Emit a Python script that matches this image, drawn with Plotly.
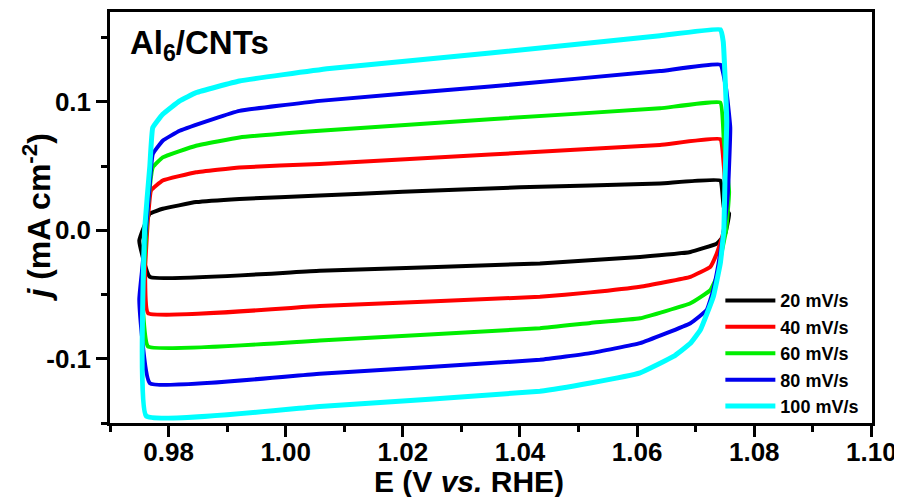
import plotly.graph_objects as go

# ---- data (closed CV loops) ----
labels = ["20 mV/s", "40 mV/s", "60 mV/s", "80 mV/s", "100 mV/s"]
colors = ["#000000", "#FF0000", "#00EE00", "#0000EE", "#00FFFF"]
widths = [4, 4, 4, 4, 5]

E_20 = [0.9768, 0.9750, 0.9760, 0.9768, 0.9790, 0.9847, 0.9921, 1.0058, 1.0200, 1.0400, 1.0639,
        1.0742, 1.0748, 1.0757, 1.0750, 1.0736, 1.0691, 1.0605, 1.0434, 1.0058, 0.9768]
j_20 = [-0.0362, -0.008, 0.005, 0.013, 0.0168, 0.022, 0.0245, 0.0271, 0.0300, 0.0335, 0.0365,
        0.0388, 0.018, 0.013, -0.003, -0.0103, -0.0168, -0.0207, -0.0258, -0.0315, -0.0362]

E_40 = [0.9765, 0.9760, 0.9765, 0.9770, 0.9790, 0.9847, 0.9921, 1.0058, 1.0349, 1.0639, 1.0742,
        1.0748, 1.0752, 1.0748, 1.0742, 1.0736, 1.0725, 1.0691, 1.0605, 1.0520, 1.0434, 1.0058, 0.9765]
j_40 = [-0.0646, -0.030, 0.010, 0.031, 0.0388, 0.0452, 0.049, 0.0517, 0.059, 0.0665, 0.071,
        0.050, 0.020, 0.000, -0.010, -0.018, -0.0284, -0.0362, -0.0439, -0.0483, -0.0517, -0.059, -0.0646]

E_60 = [0.9765, 0.9755, 0.9758, 0.9765, 0.9773, 0.9790, 0.9847, 0.9921, 1.0058, 1.0349, 1.0639,
        1.0742, 1.0748, 1.0757, 1.0752, 1.0745, 1.0736, 1.0725, 1.0691, 1.0605, 1.0520, 1.0434,
        1.0058, 0.9765]
j_60 = [-0.0905, -0.050, -0.030, 0.020, 0.049, 0.0568, 0.0659, 0.0723, 0.0775, 0.0865, 0.095,
        0.0995, 0.070, 0.030, 0.000, -0.0155, -0.0362, -0.0465, -0.0568, -0.0685, -0.0721, -0.0762,
        -0.0858, -0.0905]

E_80 = [0.9768, 0.9750, 0.9755, 0.9765, 0.9773, 0.9790, 0.9819, 0.9876, 0.9921, 1.0058, 1.0349,
        1.0639, 1.0742, 1.0752, 1.0759, 1.0755, 1.0748, 1.0739, 1.0730, 1.0719, 1.0691, 1.0605,
        1.0520, 1.0434, 1.0058, 0.9768]
j_80 = [-0.119, -0.054, -0.030, 0.020, 0.0594, 0.0698, 0.0775, 0.0866, 0.093, 0.1008, 0.112,
        0.124, 0.129, 0.110, 0.080, 0.030, 0.000, -0.0258, -0.0465, -0.062, -0.0723, -0.0878,
        -0.0956, -0.1008, -0.1116, -0.119]

E_100 = [0.9762, 0.9756, 0.9759, 0.9768, 0.9773, 0.9790, 0.9819, 0.9847, 0.9921, 1.0075, 1.0349,
         1.0639, 1.0742, 1.0747, 1.0753, 1.0750, 1.0748, 1.0742, 1.0730, 1.0708, 1.0691, 1.0662,
         1.0605, 1.0520, 1.0434, 1.0058, 0.9762]
j_100 = [-0.1447, -0.054, 0.000, 0.050, 0.080, 0.0904, 0.1008, 0.1072, 0.1163, 0.126, 0.138,
         0.1515, 0.1563, 0.147, 0.085, 0.040, 0.000, -0.0258, -0.0517, -0.0775, -0.0879, -0.0982,
         -0.111, -0.1189, -0.1253, -0.1372, -0.1447]

E_all = [E_20, E_40, E_60, E_80, E_100]
j_all = [j_20, j_40, j_60, j_80, j_100]

x_range = [0.97, 1.1001]
y_range = [-0.15, 0.17]
y_ticks = [-0.1, 0.0, 0.1]
y_ticktext = ["-0.1", "0.0", "0.1"]
y_minor = [-0.15, -0.05, 0.05, 0.15]

FONT = "Liberation Sans, Arial, sans-serif"

fig = go.Figure()
for E, j, lab, col, w in zip(E_all, j_all, labels, colors, widths):
    fig.add_trace(go.Scatter(x=E, y=j, mode="lines", name=lab,
                             line=dict(color=col, width=w, shape="spline", smoothing=0.3)))

axis_common = dict(showline=True, linecolor="black", linewidth=2.5, mirror=True,
                   ticks="outside", ticklen=11, tickwidth=2.5, tickcolor="black",
                   showgrid=False, zeroline=False, automargin=False,
                   tickfont=dict(family=FONT, size=26, color="black", weight="bold"))

fig.update_xaxes(range=x_range, tick0=0.98, dtick=0.02, tickformat=".2f", ticklabelstandoff=-7,
                 minor=dict(dtick=0.01, ticklen=6, tickwidth=2.5, tickcolor="black", ticks="outside"),
                 **axis_common)
fig.update_yaxes(range=y_range, tickvals=y_ticks, ticktext=y_ticktext,
                 minor=dict(tickvals=y_minor, ticklen=6, tickwidth=2.5,
                            tickcolor="black", ticks="outside"),
                 **axis_common)

fig.add_annotation(text="E (V <i>vs.</i> RHE)", xref="paper", yref="paper", x=0.471, y=-0.143,
                   xanchor="center", yanchor="middle", showarrow=False,
                   font=dict(family=FONT, size=30, color="black", weight="bold"))
fig.add_annotation(text="<i>j</i> (mA cm<sup>-2</sup>)", xref="paper", yref="paper", x=-0.097, y=0.5,
                   xanchor="center", yanchor="middle", showarrow=False, textangle=-90,
                   font=dict(family=FONT, size=32, color="black", weight="bold"))
fig.add_annotation(text="Al<sub>6</sub>/CNTs", xref="paper", yref="paper", x=0.024, y=0.975,
                   xanchor="left", yanchor="top", showarrow=False,
                   font=dict(family=FONT, size=33, color="black", weight="bold"))

# the page body adds an 8 px offset, so the figure is 8 px smaller than the window
fig.update_layout(
    width=894, height=489,
    margin=dict(l=102, r=30, t=4, b=74),
    plot_bgcolor="white", paper_bgcolor="white",
    showlegend=True,
    legend=dict(x=0.801, y=-0.003, xanchor="left", yanchor="bottom",
                bgcolor="rgba(0,0,0,0)", borderwidth=0, itemwidth=50,
                tracegroupgap=0,
                font=dict(family=FONT, size=18, color="black", weight="bold")),
)

fig.write_html("out.html")
